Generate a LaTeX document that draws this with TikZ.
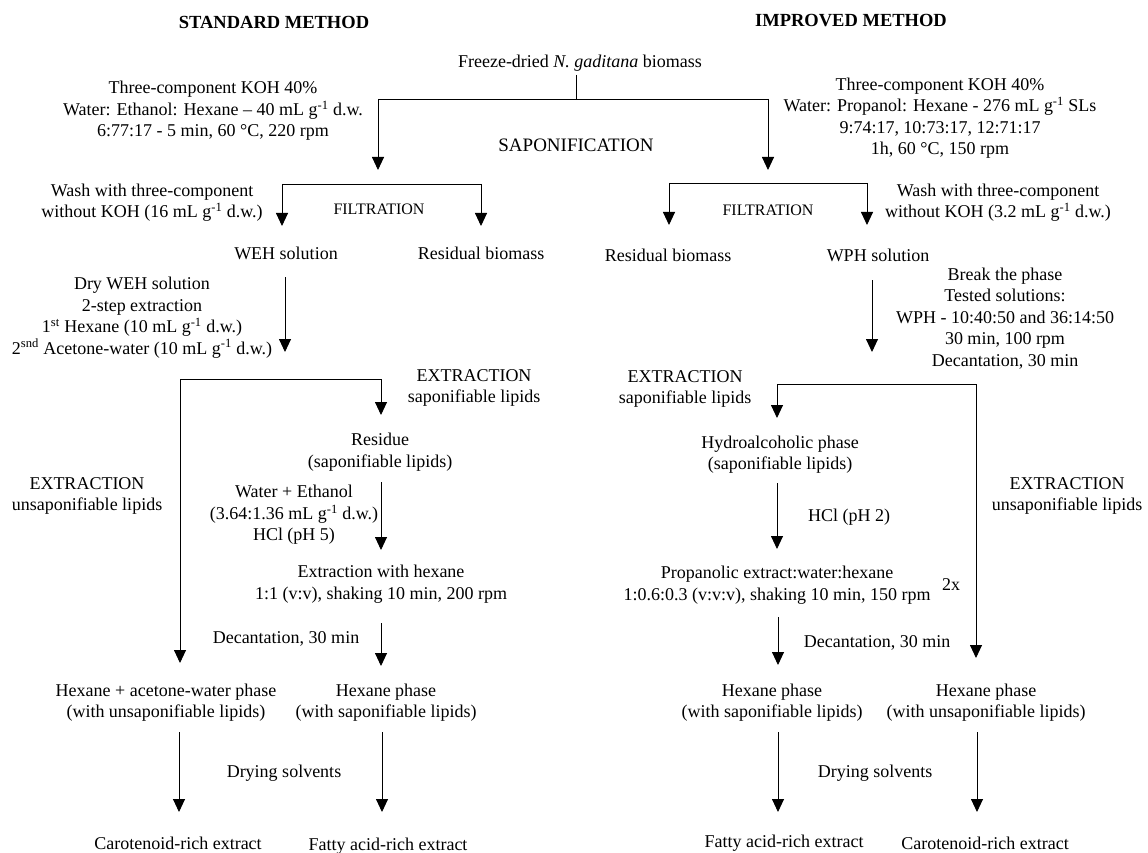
\documentclass[tikz,border=0pt]{standalone}
\usepackage{fontspec}
\setmainfont{Liberation Serif}
\usetikzlibrary{arrows.meta}

\tikzset{
  txt/.style = {font=\fontsize{18}{21.5}\selectfont, align=center, inner sep=0pt},
  lbl/.style = {font=\fontsize{16}{19}\selectfont, inner sep=0pt},
  head/.style = {font=\fontsize{18.5}{22}\selectfont\bfseries, inner sep=0pt},
  wire/.style = {line width=0.9pt},
  arr/.style = {wire, -{Triangle[length=13pt, width=12pt]}}
}
\newcommand{\gdw}{g\textsuperscript{-1}}

\begin{document}
\begin{tikzpicture}[x=1pt, y=-1pt]
\useasboundingbox (0,0) rectangle (1148,853);

% titles and start
\node (stdT) [head] at (274,22) {STANDARD METHOD};
\node (impT) [head] at (851,21) {IMPROVED METHOD};
\node (bio) [txt] at (580,63) {Freeze-dried \textit{N. gaditana} biomass};

% saponification
\node (kohL) [txt] at (213,111) {Three-component KOH 40\%\\Water: Ethanol: Hexane -- 40 mL \gdw{} d.w.\\6:77:17 - 5 min, 60 °C, 220 rpm};
\node (kohR) [txt] at (940,118) {Three-component KOH 40\%\\Water: Propanol: Hexane - 276 mL \gdw{} SLs\\9:74:17, 10:73:17, 12:71:17\\1h, 60 °C, 150 rpm};
\node (sapo) [txt, font=\fontsize{19}{22}\selectfont] at (576,145) {SAPONIFICATION};

% filtration
\node (filL) [lbl] at (379,209) {FILTRATION};
\node (filR) [lbl] at (768,210) {FILTRATION};
\node (washL) [txt] at (152,202.5) {Wash with three-component\\without KOH (16 mL \gdw{} d.w.)};
\node (washR) [txt] at (998,202.5) {Wash with three-component\\without KOH (3.2 mL \gdw{} d.w.)};
\node (weh) [txt] at (286,253) {WEH solution};
\node (resL) [txt] at (481,253) {Residual biomass};
\node (resR) [txt] at (668,255) {Residual biomass};
\node (wph) [txt] at (878,255) {WPH solution};

% standard method, extraction
\node (dryL) [txt] at (142,317.5) {Dry WEH solution\\2-step extraction\\1\textsuperscript{st} Hexane (10 mL \gdw{} d.w.)\\2\textsuperscript{snd} Acetone-water (10 mL \gdw{} d.w.)};
\node (extSapL) [txt] at (474,388) {EXTRACTION\\saponifiable lipids};
\node (extUnsL) [txt] at (87,496) {EXTRACTION\\unsaponifiable lipids};
\node (residue) [txt] at (380,452) {Residue\\(saponifiable lipids)};
\node (watEth) [txt] at (294,515) {Water + Ethanol\\(3.64:1.36 mL \gdw{} d.w.)\\HCl (pH 5)};
\node (extHex) [txt] at (381,584) {Extraction with hexane\\1:1 (v:v), shaking 10 min, 200 rpm};
\node (decL) [txt] at (286,639) {Decantation, 30 min};
\node (hexAcet) [txt] at (166,702.5) {Hexane + acetone-water phase\\(with unsaponifiable lipids)};
\node (hexSapL) [txt] at (386,702.5) {Hexane phase\\(with saponifiable lipids)};
\node (dryingL) [txt] at (284,773) {Drying solvents};
\node (carL) [txt] at (178,843) {Carotenoid-rich extract};
\node (fatL) [txt] at (388,846) {Fatty acid-rich extract};

% improved method, extraction
\node (breakR) [txt] at (1005,318.5) {Break the phase\\Tested solutions:\\WPH - 10:40:50 and 36:14:50\\30 min, 100 rpm\\Decantation, 30 min};
\node (extSapR) [txt] at (685,389) {EXTRACTION\\saponifiable lipids};
\node (extUnsR) [txt] at (1067,496) {EXTRACTION\\unsaponifiable lipids};
\node (hydro) [txt] at (780,454.5) {Hydroalcoholic phase\\(saponifiable lipids)};
\node (hclR) [txt] at (849,517) {HCl (pH 2)};
\node (propan) [txt] at (777,585) {Propanolic extract:water:hexane\\1:0.6:0.3 (v:v:v), shaking 10 min, 150 rpm};
\node (twox) [txt] at (951,585) {2x};
\node (decR) [txt] at (877,643) {Decantation, 30 min};
\node (hexSapR) [txt] at (772,702.5) {Hexane phase\\(with saponifiable lipids)};
\node (hexUnsR) [txt] at (986,702.5) {Hexane phase\\(with unsaponifiable lipids)};
\node (dryingR) [txt] at (875,773) {Drying solvents};
\node (fatR) [txt] at (784,843) {Fatty acid-rich extract};
\node (carR) [txt] at (985,843) {Carotenoid-rich extract};

% junction points
\coordinate (b0) at (576,75);
\coordinate (b1) at (576,99);
\coordinate (sL0) at (378,99);
\coordinate (sL1) at (378,170);
\coordinate (sR0) at (768,99);
\coordinate (sR1) at (768,170);
\coordinate (fL0) at (282,184);
\coordinate (fL1) at (282,226);
\coordinate (fL2) at (481,184);
\coordinate (fL3) at (481,226);
\coordinate (fR0) at (669,183);
\coordinate (fR1) at (669,225);
\coordinate (fR2) at (867,183);
\coordinate (fR3) at (867,225);
\coordinate (w0) at (285,277);
\coordinate (w1) at (285,352);
\coordinate (eL0) at (180,379);
\coordinate (eL1) at (180,663);
\coordinate (eL2) at (381,379);
\coordinate (eL3) at (381,415);
\coordinate (r0) at (381,482);
\coordinate (r1) at (381,550);
\coordinate (d0) at (381,623);
\coordinate (d1) at (381,666);
\coordinate (gL0) at (179,732);
\coordinate (gL1) at (179,812);
\coordinate (gL2) at (382,732);
\coordinate (gL3) at (382,812);
\coordinate (p0) at (872,280);
\coordinate (p1) at (872,352);
\coordinate (eR0) at (777,384);
\coordinate (eR1) at (777,418);
\coordinate (eR2) at (976,384);
\coordinate (eR3) at (976,658);
\coordinate (h0) at (777,483);
\coordinate (h1) at (777,549);
\coordinate (q0) at (778,617);
\coordinate (q1) at (778,665);
\coordinate (gR0) at (778,732);
\coordinate (gR1) at (778,812);
\coordinate (gR2) at (977,732);
\coordinate (gR3) at (977,812);

% plain lines
\draw [wire] (b0) -- (b1) (sL0) -- (sR0);
\draw [wire] (fL0) -- (fL2) (fR0) -- (fR2);
\draw [wire] (eL0) -- (eL2) (eR0) -- (eR2);

% arrows
\path [arr]
    (sL0) edge (sL1)
    (sR0) edge (sR1)
    (fL0) edge (fL1)
    (fL2) edge (fL3)
    (fR0) edge (fR1)
    (fR2) edge (fR3)
    (w0) edge (w1)
    (eL0) edge (eL1)
    (eL2) edge (eL3)
    (r0) edge (r1)
    (d0) edge (d1)
    (gL0) edge (gL1)
    (gL2) edge (gL3)
    (p0) edge (p1)
    (eR0) edge (eR1)
    (eR2) edge (eR3)
    (h0) edge (h1)
    (q0) edge (q1)
    (gR0) edge (gR1)
    (gR2) edge (gR3);
\end{tikzpicture}
\end{document}
